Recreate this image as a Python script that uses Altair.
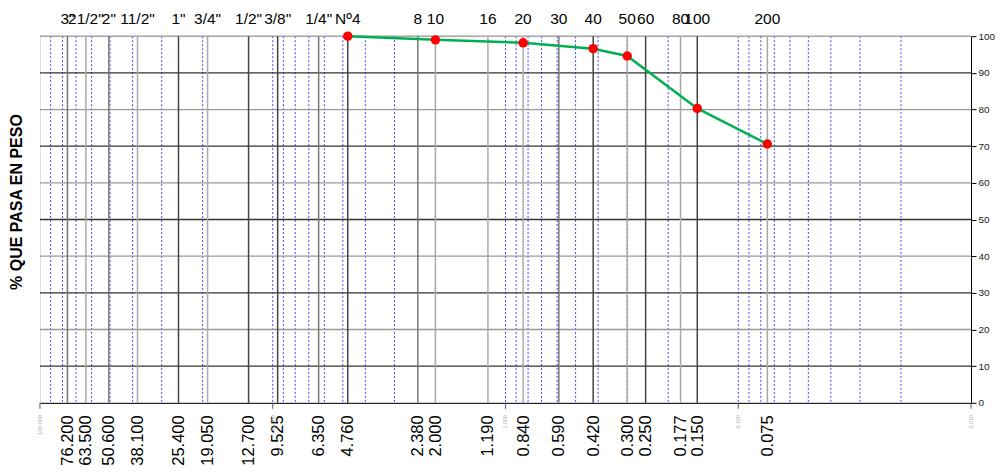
import altair as alt
import pandas as pd

# Sieve names (top) and openings in mm (bottom)
sieve_names = ['3"', '21/2"', '2"', '11/2"', '1"', '3/4"', '1/2"', '3/8"', '1/4"', 'Nº4',
               '8', '10', '16', '20', '30', '40', '50', '60', '80', '100', '200']
sieve_mm = [76.2, 63.5, 50.6, 38.1, 25.4, 19.05, 12.7, 9.525, 6.35, 4.76,
            2.38, 2.0, 1.19, 0.84, 0.59, 0.42, 0.3, 0.25, 0.177, 0.15, 0.075]
sieve_shade = ["mid", "light", "mid", "light", "dark", "light", "dark", "dark", "mid", "dark",
               "mid", "light", "light", "light", "mid", "dark", "light", "dark", "light", "dark", "light"]

# Sample gradation
sample_mm = [4.76, 2.0, 0.84, 0.42, 0.3, 0.15, 0.075]
sample_pass = [100.0, 99.0, 98.2, 96.6, 94.6, 80.3, 70.6]

# Log grid (minor) lines and decade marks
minor_mult = [1, 2, 3, 4, 5, 6, 7, 8, 9]
decades = [0.01, 0.1, 1, 10]
decade_vals = [100, 10, 1, 0.1, 0.01]
decade_labels = ["100.000", "10.000", "1.000", "0.100", "0.010"]

# Horizontal grid
h_vals = [10, 20, 30, 40, 50, 60, 70, 80, 90, 100]
h_shade = ["dark", "light", "dark", "light", "dark", "light", "dark", "light", "dark", "light"]
y_ticks = [0, 10, 20, 30, 40, 50, 60, 70, 80, 90, 100]

W, H = 932, 367

minor_vals = [m * d for d in decades for m in minor_mult if 0.01 < m * d < 100]
minor_df = pd.DataFrame({"x": minor_vals})
sieve_df = pd.DataFrame({"x": sieve_mm, "name": sieve_names, "shade": sieve_shade})
sample_df = pd.DataFrame({"x": sample_mm, "y": sample_pass})
dec_df = pd.DataFrame({"x": decade_vals, "lab": decade_labels})
h_df = pd.DataFrame({"y": h_vals, "shade": h_shade})

xs = alt.Scale(type="log", domain=[0.01, 100], reverse=True, nice=False)
ys = alt.Scale(domain=[0, 100], nice=False)
shade_scale = alt.Scale(domain=["dark", "mid", "light"], range=["#444444", "#777777", "#aaaaaa"])

x_axis = alt.Axis(
    values=sieve_mm, format=".3f", labelAngle=270, labelFontSize=16.5, labelPadding=12,
    ticks=False, grid=False, title=None, domainColor="#000000", labelColor="#000000",
    labelOverlap=False, labelFlush=False, labelBound=False)
y_axis = alt.Axis(
    orient="right", values=y_ticks, labelFontSize=10, tickSize=5, tickColor="#000000",
    domainColor="#000000", labelColor="#222222", grid=False, title=None, labelPadding=2)

X = lambda: alt.X("x:Q", scale=xs, axis=x_axis)
Y = lambda: alt.Y("y:Q", scale=ys, axis=y_axis)

minor = alt.Chart(minor_df).mark_rule(color="#2222ff", strokeWidth=1, strokeDash=[2, 2], opacity=0.85).encode(
    x=X()
)

hgrid = alt.Chart(h_df).mark_rule(strokeWidth=1.3).encode(
    y=Y(),
    color=alt.Color("shade:N", scale=alt.Scale(domain=["dark", "light"], range=["#333333", "#999999"]), legend=None),
)

sieves = alt.Chart(sieve_df).mark_rule(strokeWidth=1.5).encode(
    x=X(),
    color=alt.Color("shade:N", scale=shade_scale, legend=None),
)

top_labels = alt.Chart(sieve_df).mark_text(fontSize=15.5, baseline="alphabetic", align="center", color="#000000").encode(
    x=X(),
    y=alt.value(-12),
    text="name:N",
)

dec_ticks = alt.Chart(dec_df).mark_rule(color="#555555", strokeWidth=1).encode(
    x=X(),
    y=alt.value(H),
    y2=alt.value(H + 6),
)

dec_labels = alt.Chart(dec_df).mark_text(fontSize=5.5, angle=270, align="right", baseline="middle", color="#aaaaaa").encode(
    x=X(),
    y=alt.value(H + 12),
    text="lab:N",
)

line = alt.Chart(sample_df).mark_line(color="#00b050", strokeWidth=2.5).encode(
    x=X(),
    y=Y(),
)

points = alt.Chart(sample_df).mark_point(filled=True, color="#ff0000", size=90, opacity=1).encode(
    x=X(),
    y=Y(),
)

title = alt.Chart(pd.DataFrame({"t": ["% QUE PASA EN PESO"]})).mark_text(
    fontSize=16, fontWeight="bold", angle=270, align="center", baseline="middle", color="#000000"
).encode(
    x=alt.value(-23),
    y=alt.value(166),
    text="t:N",
)

chart = alt.layer(minor, hgrid, sieves, dec_ticks, dec_labels, top_labels, line, points, title).properties(
    width=W, height=H,
    padding={"left": 1, "top": 4, "right": 0, "bottom": 0},
).resolve_scale(color="independent").configure_view(
    stroke="#222222", strokeWidth=1
).configure(font="Liberation Sans")

chart.save("out.html", embed_options={"renderer": "svg", "actions": False})
